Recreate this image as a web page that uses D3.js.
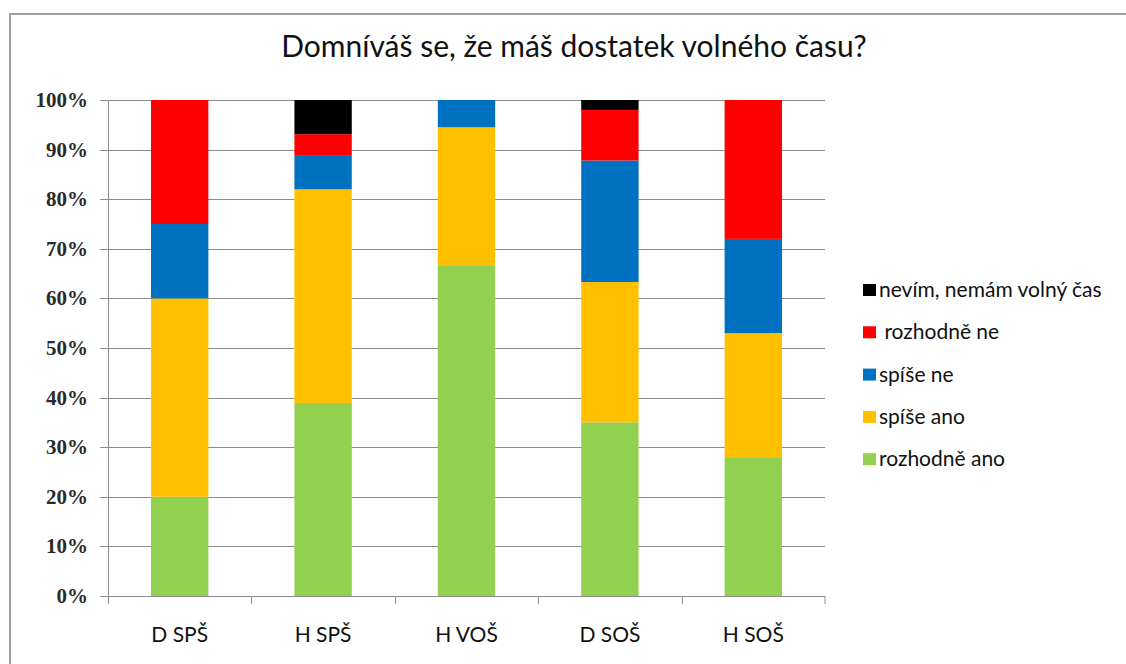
<!DOCTYPE html>
<html>
<head>
<meta charset="utf-8">
<script src="https://cdn.jsdelivr.net/npm/d3@7"></script>
<style>
  html, body { margin: 0; padding: 0; background: #fff; overflow: hidden; }
  svg { display: block; font-family: Lato, "Open Sans", sans-serif; }
</style>
</head>
<body>
<div id="chart"></div>
<script>
// categories and series (percent of answers)
var categories = ["D SPŠ", "H SPŠ", "H VOŠ", "D SOŠ", "H SOŠ"];
var seriesNames = ["rozhodně ano", "spíše ano", "spíše ne", "rozhodně ne", "nevím, nemám volný čas"];
var rozhodneAno = [20, 38.9, 66.7, 35, 28];
var spiseAno    = [40, 43.1, 27.8, 28.3, 25];
var spiseNe     = [15, 6.9, 5.5, 24.5, 19];
var rozhodneNe  = [25, 4.2, 0, 10.2, 28];
var nevim       = [0, 6.9, 0, 2.0, 0];
var yTicks = [0, 10, 20, 30, 40, 50, 60, 70, 80, 90, 100];
var colors = ["#92D050", "#FFC000", "#0070C0", "#FF0000", "#000000"];

var W = 1126, H = 664;
var svg = d3.select("#chart").append("svg").attr("width", W).attr("height", H);

// chart frame: only top and left edges are inside the picture
svg.append("line").attr("x1", 10).attr("x2", W).attr("y1", 14).attr("y2", 14)
  .attr("stroke", "#a0a0a0").attr("stroke-width", 2);
svg.append("line").attr("x1", 10).attr("x2", 10).attr("y1", 13).attr("y2", H)
  .attr("stroke", "#a0a0a0").attr("stroke-width", 2);

svg.append("text").attr("x", 574).attr("y", 57).attr("text-anchor", "middle")
  .style("font-size", "30px").style("fill", "#111")
  .text("Domníváš se, že máš dostatek volného času?");

var plotL = 108, plotR = 825, plotT = 100, plotB = 596;

var x = d3.scaleBand().domain(categories).range([plotL, plotR]).paddingInner(0.6).paddingOuter(0.3);
var xCat = d3.scaleBand().domain(categories).range([plotL, plotR]);
var y = d3.scaleLinear().domain([0, 100]).range([plotB, plotT]);

// gridlines
svg.append("g").selectAll("line").data(yTicks).enter().append("line")
  .attr("x1", plotL - 8).attr("x2", plotR)
  .attr("y1", function(d) { return Math.round(y(d)) + 0.5; })
  .attr("y2", function(d) { return Math.round(y(d)) + 0.5; })
  .attr("stroke", "#8c8c8c").attr("stroke-width", 1);

svg.append("g").selectAll("text").data(yTicks).enter().append("text")
  .attr("x", 88).attr("y", function(d) { return y(d) + 7; })
  .attr("text-anchor", "end")
  .style("font-family", "'Liberation Serif', serif")
  .style("font-size", "21px").style("font-weight", "bold").style("fill", "#2a2a2a")
  .text(function(d) { return d + "%"; });

// stacked data
var rows = categories.map(function(c, i) {
  return { cat: c, s0: rozhodneAno[i], s1: spiseAno[i], s2: spiseNe[i], s3: rozhodneNe[i], s4: nevim[i] };
});
var stack = d3.stack().keys(["s0", "s1", "s2", "s3", "s4"]);
var layers = stack(rows);

svg.append("g").selectAll("g").data(layers).enter().append("g")
  .attr("fill", function(d, i) { return colors[i]; })
  .selectAll("rect").data(function(d) { return d; }).enter().append("rect")
  .attr("x", function(d) { return x(d.data.cat); })
  .attr("width", x.bandwidth())
  .attr("y", function(d) { return y(d[1]); })
  .attr("height", function(d) { return y(d[0]) - y(d[1]); });

// axes lines
svg.append("line").attr("x1", plotL + 0.5).attr("x2", plotL + 0.5).attr("y1", plotT).attr("y2", plotB + 8)
  .attr("stroke", "#8c8c8c");
svg.append("line").attr("x1", plotL).attr("x2", plotR).attr("y1", plotB + 0.5).attr("y2", plotB + 0.5)
  .attr("stroke", "#8c8c8c");
svg.append("g").selectAll("line").data(categories.slice(1).concat(["end"])).enter().append("line")
  .attr("x1", function(d) { return d === "end" ? plotR : Math.round(xCat(d)) + 0.5; })
  .attr("x2", function(d) { return d === "end" ? plotR : Math.round(xCat(d)) + 0.5; })
  .attr("y1", plotB).attr("y2", plotB + 8).attr("stroke", "#8c8c8c");

svg.append("g").selectAll("text").data(categories).enter().append("text")
  .attr("x", function(d) { return xCat(d) + xCat.bandwidth() / 2; })
  .attr("y", 642).attr("text-anchor", "middle")
  .style("font-size", "21px").style("fill", "#111")
  .text(function(d) { return d; });

// legend (top entry = last series)
var legendItems = seriesNames.map(function(n, i) { return { name: n, color: colors[i] }; }).reverse();
var lg = svg.append("g").selectAll("g").data(legendItems).enter().append("g")
  .attr("transform", function(d, i) { return "translate(863," + (290 + i * 42.3) + ")"; });
lg.append("rect").attr("x", 0).attr("y", -6).attr("width", 13).attr("height", 12)
  .attr("fill", function(d) { return d.color; });
lg.append("text").attr("x", 16).attr("y", 7)
  .style("font-size", "21px").style("fill", "#111").attr("xml:space", "preserve")
  .text(function(d) { return d.name === "rozhodně ne" ? " rozhodně ne" : d.name; });
</script>
</body>
</html>
